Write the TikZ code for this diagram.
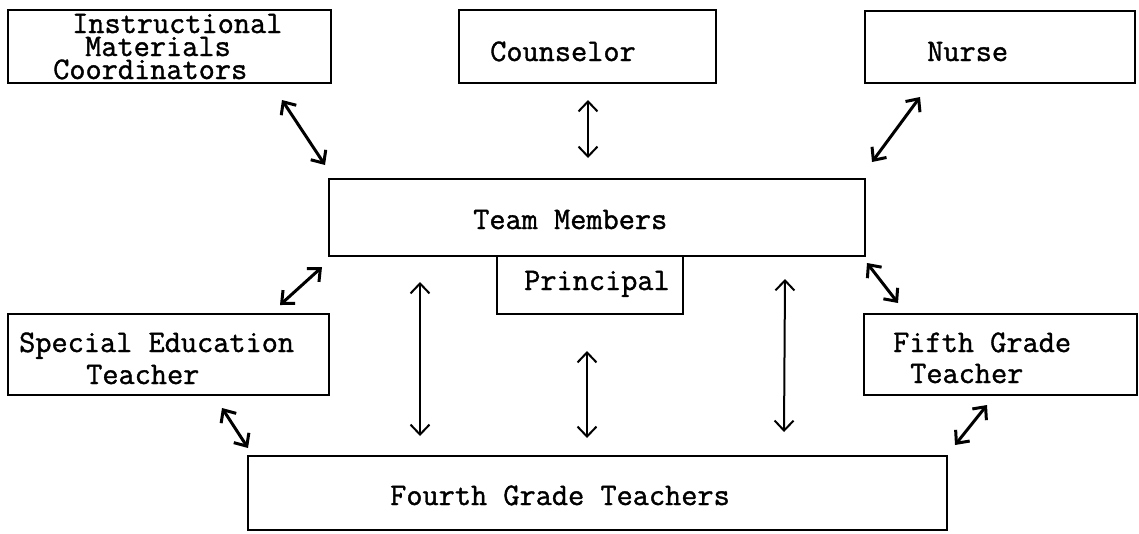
\documentclass[tikz,border=0pt]{standalone}
\usepackage{fontspec}
\newfontfamily\twfont{Latin Modern Mono}[FakeBold=1.2]
\usetikzlibrary{arrows.meta}
\begin{document}
\begin{tikzpicture}[x=1pt,y=-1pt,
  box/.style={draw, line width=2.6pt, rectangle, inner sep=0pt},
  lbl/.style={anchor=base west, inner sep=0pt, text height=21pt, text depth=0pt, font=\twfont\fontsize{31.4}{23}\selectfont},
  link/.style={line width=3pt, line cap=round, {Straight Barb[length=10pt,width=18pt]}-{Straight Barb[length=10pt,width=18pt]}},
  thinlink/.style={line width=2pt, line cap=round, {Straight Barb[length=10pt,width=19pt]}-{Straight Barb[length=10pt,width=19pt]}}
]
\useasboundingbox (0,0) rectangle (1139,533);
% boxes
\node[box, minimum width=323pt, minimum height=73pt] (imc) at (169.5,46.5) {};
\node[box, minimum width=257pt, minimum height=73pt] (coun) at (587.5,46.5) {};
\node[box, minimum width=270pt, minimum height=72pt] (nurse) at (1000,47) {};
\node[box, minimum width=536pt, minimum height=77pt] (team) at (597,217.5) {};
\node[box, minimum width=186pt, minimum height=58pt] (prin) at (590,285) {};
\node[box, minimum width=321pt, minimum height=81pt] (spec) at (168.5,354.5) {};
\node[box, minimum width=273pt, minimum height=81pt] (fifth) at (1000.5,354.5) {};
\node[box, minimum width=699pt, minimum height=74pt] (fourth) at (597.5,493) {};
% labels
\node[lbl] (imc1) at (72,33) {Instructional};
\node[lbl] (imc2) at (85,56) {Materials};
\node[lbl] (imc3) at (53,79) {Coordinators};
\node[lbl] (counl) at (490,61) {Counselor};
\node[lbl] (nursel) at (927,61) {Nurse};
\node[lbl] (teaml) at (473,229) {Team Members};
\node[lbl] (prinl) at (524,290) {Principal};
\node[lbl] (spec1) at (19,352) {Special Education};
\node[lbl] (spec2) at (86,384) {Teacher};
\node[lbl] (fifth1) at (893,352) {Fifth Grade};
\node[lbl] (fifth2) at (910,383) {Teacher};
\node[lbl] (fourthl) at (390,505) {Fourth Grade Teachers};
% arrow end points
\coordinate (a1s) at (282,100); \coordinate (a1e) at (325,165);
\coordinate (a2s) at (588,100); \coordinate (a2e) at (588,158);
\coordinate (a3s) at (920,97);  \coordinate (a3e) at (872,162);
\coordinate (a4s) at (322,267); \coordinate (a4e) at (280,305);
\coordinate (a5s) at (222,408); \coordinate (a5e) at (248,448);
\coordinate (a6s) at (867,263); \coordinate (a6e) at (898,303);
\coordinate (a7s) at (987,405); \coordinate (a7e) at (955,445);
\coordinate (a8s) at (420,282); \coordinate (a8e) at (420,436);
\coordinate (a9s) at (587,351); \coordinate (a9e) at (587,438);
\coordinate (a10s) at (785,279); \coordinate (a10e) at (784,432);
% connectors
\draw[link] (a1s) -- (a1e);
\draw[thinlink] (a2s) -- (a2e);
\draw[link] (a3s) -- (a3e);
\draw[link] (a4s) -- (a4e);
\draw[link] (a5s) -- (a5e);
\draw[link] (a6s) -- (a6e);
\draw[link] (a7s) -- (a7e);
\draw[thinlink] (a8s) -- (a8e);
\draw[thinlink] (a9s) -- (a9e);
\draw[thinlink] (a10s) -- (a10e);
\end{tikzpicture}
\end{document}
